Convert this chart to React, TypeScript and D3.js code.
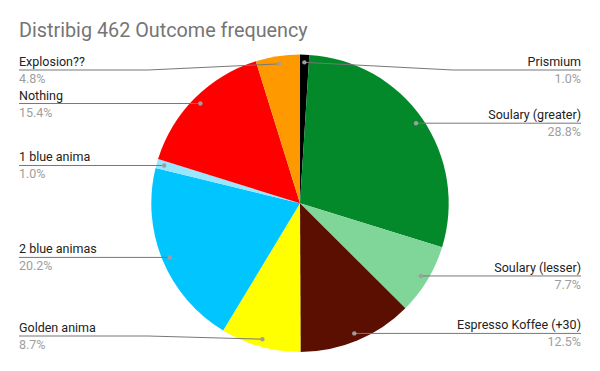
import React from "react";
import * as d3 from "d3";

const categories = [
  "Prismium",
  "Soulary (greater)",
  "Soulary (lesser)",
  "Espresso Koffee (+30)",
  "Golden anima",
  "2 blue animas",
  "1 blue anima",
  "Nothing",
  "Explosion??",
];
const values = [1.0, 28.8, 7.7, 12.5, 8.7, 20.2, 1.0, 15.4, 4.8];
const colors = [
  "#000000",
  "#03882a",
  "#80d699",
  "#5a0f00",
  "#ffff00",
  "#00c5ff",
  "#99e6ff",
  "#ff0000",
  "#ff9900",
];
const title = "Distribig 462 Outcome frequency";

const W = 600;
const H = 371;
const cx = 300;
const cy = 203.3;
const R = 148.7;
const dotR = 141;
const FONT = "Roboto, Arial, sans-serif";

export default function App() {
  const pie = d3
    .pie<number>()
    .sort(null)
    .value((d) => d)
    .startAngle(0)
    .endAngle(2 * Math.PI);
  const arcs = pie(values);
  const arcGen = d3.arc<d3.PieArcDatum<number>>().innerRadius(0).outerRadius(R);
  const total = d3.sum(values);

  return (
    <svg
      width={W}
      height={H}
      style={{ position: "absolute", left: 0, top: 0, background: "#fff" }}
      fontFamily={FONT}
    >
      <rect width={W} height={H} fill="#fff" />
      <text x={19} y={37} fontSize={19.8} fill="#757575">
        {title}
      </text>
      <g transform={`translate(${cx},${cy})`}>
        {arcs.map((a, i) => (
          <path key={i} d={arcGen(a) || ""} fill={colors[i]} />
        ))}
      </g>
      {arcs.map((a, i) => {
        const mid = (a.startAngle + a.endAngle) / 2;
        const dx = cx + dotR * Math.sin(mid);
        const dy = cy - dotR * Math.cos(mid);
        const right = Math.sin(mid) > 0;
        const ly = Math.max(70, Math.min(336, dy));
        const x0 = right ? 581 : 19;
        const xb = right ? 453 : 148;
        const pct = ((values[i] / total) * 100).toFixed(1) + "%";
        const anchor = right ? "end" : "start";
        const straight = Math.abs(ly - dy) < 1.5;
        const pts = straight
          ? `${x0},${ly} ${dx},${ly}`
          : `${x0},${ly} ${xb},${ly} ${dx},${dy}`;
        return (
          <g key={i}>
            <polyline points={pts} fill="none" stroke="#777" strokeWidth={1} />
            <circle cx={dx} cy={straight ? ly : dy} r={2.2} fill="#9e9e9e" />
            <text x={x0} y={ly - 4} fontSize={12.5} fill="#222" textAnchor={anchor}>
              {categories[i]}
            </text>
            <text x={x0} y={ly + 13} fontSize={12.5} fill="#9e9e9e" textAnchor={anchor}>
              {pct}
            </text>
          </g>
        );
      })}
    </svg>
  );
}
